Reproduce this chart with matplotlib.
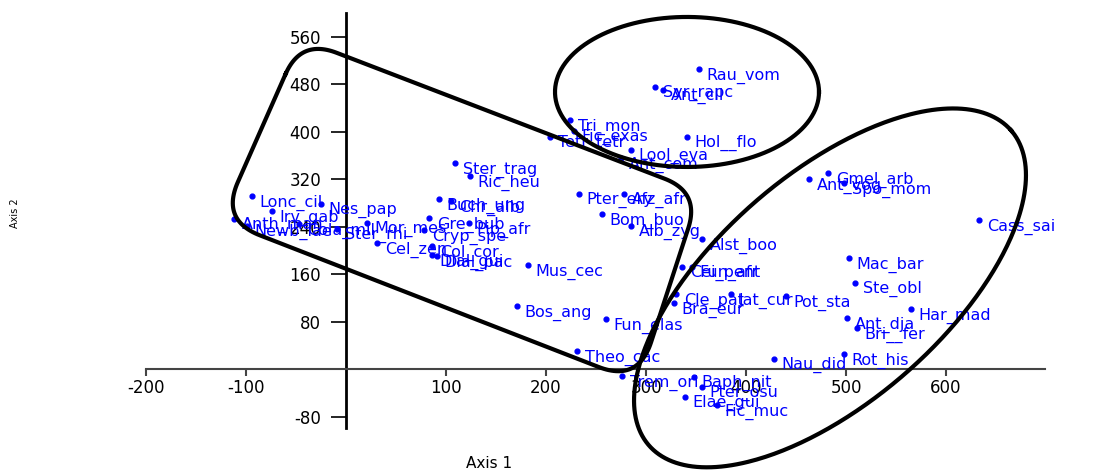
import numpy as np
import matplotlib.pyplot as plt

plt.rcParams["axes.unicode_minus"] = False

# species scores on the first two axes
species = ["Rau_vom", "Syr_rapc", "Ant_cil", "Tri_mon", "Fic_exas", "Tetr_tetr",
           "Hol__flo", "Lool_eva", "Ant_com", "Ster_trag", "Ric_heu", "Gmel_arb",
           "Ant_vog", "Spo_mom", "Cass_sai", "Alst_boo", "Cei_pent", "Fun_afr",
           "Mac_bar", "Ste_obl", "Cle_pat", "Jat_cur", "Pot_sta", "Bra_eur",
           "Har_mad", "Ant_dja", "Bri__fer", "Rot_his", "Nau_did", "Trem_ori",
           "Baph_nit", "Pter_osu", "Elae_gui", "Fic_muc", "Theo_cac", "Fun_elas",
           "Bos_ang", "Mus_cec", "Pter_ery", "Afz_afr", "Bom_buo", "Alb_zyg",
           "Lonc_cil", "Irv_gab", "Nes_pap", "Anth_man", "Newb_lae", "Cola_mil",
           "Ster_rhi", "Mor_mes", "Cryp_spe", "Gre_bub", "Buch_ung", "Chr_alb",
           "Pip_afr", "Dial_gui", "Dial_pac", "Cel_zen", "Col_cor"]
axis1 = [353, 309, 317, 224, 228, 204,
         341, 285, 275, 109, 124, 482,
         463, 498, 633, 356, 336, 346,
         503, 509, 330, 385, 440, 328,
         565, 501, 511, 498, 428, 276,
         348, 356, 339, 371, 231, 260,
         171, 182, 233, 278, 256, 285,
         -94, -74, -25, -112, -99, -47,
         -9, 21, 78, 83, 93, 105,
         123, 86, 91, 31, 86]
axis2 = [505, 476, 471, 419, 402, 391,
         391, 369, 355, 347, 325, 330,
         320, 313, 251, 219, 173, 172,
         187, 145, 126, 126, 123, 111,
         101, 86, 69, 25, 17, -12,
         -13, -30, -47, -61, 30, 84,
         106, 175, 295, 295, 261, 242,
         291, 266, 279, 253, 241, 244,
         237, 247, 234, 254, 286, 283,
         246, 192, 190, 212, 207]

xticks = [-200, -100, 100, 200, 300, 400, 500, 600]
yticks = [-80, 80, 160, 240, 320, 400, 480, 560]

fig = plt.figure(figsize=(11.11, 4.71), dpi=100)
ax = fig.add_axes([146 / 1111, 43 / 471, 899 / 1111, 415 / 471])
ax.set_xlim(-200, 699)
ax.set_ylim(-99, 600)

ax.spines["left"].set_position("zero")
ax.spines["bottom"].set_position("zero")
ax.spines["top"].set_visible(False)
ax.spines["right"].set_visible(False)
ax.spines["left"].set_linewidth(2)
ax.spines["bottom"].set_linewidth(1.5)
ax.spines["bottom"].set_color("#444444")

ax.set_xticks(xticks)
ax.set_yticks(yticks)
ax.tick_params(axis="x", direction="out", length=5, width=1.5, labelsize=12, pad=2, color="#444444")
ax.tick_params(axis="y", direction="out", length=11, width=1.2, labelsize=12, pad=7)

ax.scatter(axis1, axis2, s=12, color="blue", zorder=3, clip_on=False)
for name, x, y in zip(species, axis1, axis2):
    ax.annotate(name, (x, y), xytext=(5.5, -4.5), textcoords="offset points",
                color="blue", fontsize=11.5, va="center", ha="left")

fig.text(489 / 1111, 1 - 463 / 471, "Axis 1", ha="center", va="center", fontsize=11)
fig.text(15 / 1111, 1 - 213 / 471, "Axis 2", ha="center", va="center", fontsize=7, rotation=90)


# group outlines, drawn in screen pixels so they keep their shape
def draw_ellipse(cx, cy, rx, ry, angle):
    c = ax.transData.transform((cx, cy))
    t = np.linspace(0, 2 * np.pi, 400)
    a = np.deg2rad(angle)
    px = c[0] + rx * np.cos(t) * np.cos(a) - ry * np.sin(t) * np.sin(a)
    py = c[1] + rx * np.cos(t) * np.sin(a) + ry * np.sin(t) * np.cos(a)
    d = ax.transData.inverted().transform(np.column_stack([px, py]))
    ax.plot(d[:, 0], d[:, 1], color="black", lw=3, clip_on=False, zorder=4)


def draw_rounded(corners, r):
    p = ax.transData.transform(corners)
    n = len(p)
    pts = []
    for i in range(n):
        P = p[i]
        A = p[i - 1]
        B = p[(i + 1) % n]
        u1 = (A - P) / np.linalg.norm(A - P)
        u2 = (B - P) / np.linalg.norm(B - P)
        half = np.arccos(np.clip(np.dot(u1, u2), -1, 1)) / 2
        d = r / np.tan(half)
        T1 = P + u1 * d
        T2 = P + u2 * d
        s = np.linspace(0, 1, 30)[:, None]
        pts.append((1 - s) ** 2 * T1 + 2 * (1 - s) * s * P + s ** 2 * T2)
    pts = np.vstack(pts + [pts[0][:1]])
    d = ax.transData.inverted().transform(pts)
    ax.plot(d[:, 0], d[:, 1], color="black", lw=3, clip_on=False, zorder=4)


draw_rounded([(-45, 556), (354, 298), (292, -22), (-125, 251)], 40)
draw_ellipse(341, 467, 132, 75, 0)
draw_ellipse(484, 137, 240, 114, 41)

fig.savefig("out.png", dpi=100)
